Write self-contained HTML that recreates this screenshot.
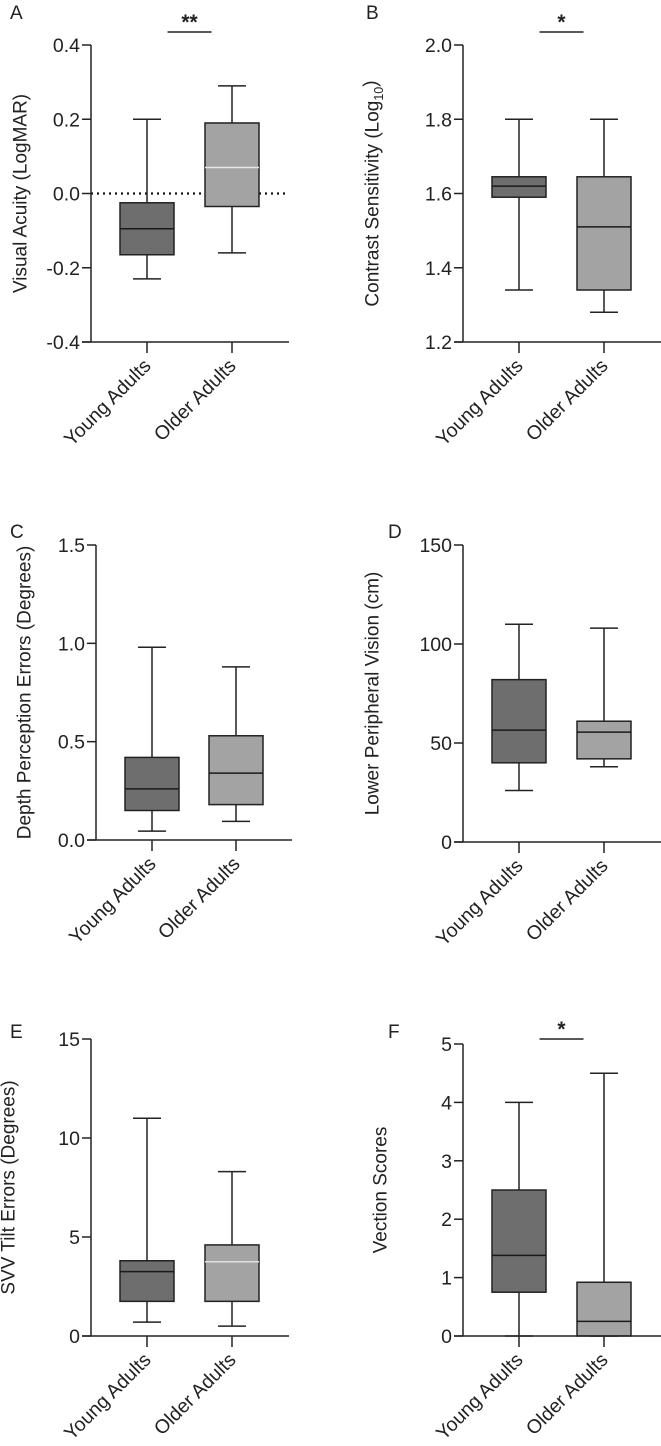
<!DOCTYPE html>
<html><head><meta charset="utf-8">
<style>
html,body{margin:0;padding:0;background:#fff;}
svg{display:block;font-family:"Liberation Sans",Arial,sans-serif;}
</style></head>
<body>
<svg id="chart" width="661" height="1446" viewBox="0 0 661 1446" xmlns="http://www.w3.org/2000/svg"></svg>
<script>
const categories = ["Young Adults", "Older Adults"];
// [min, q1, median, q3, max]
const aYoung = [-0.23, -0.165, -0.095, -0.025, 0.2];
const aOlder = [-0.16, -0.035, 0.07, 0.19, 0.29];
const bYoung = [1.34, 1.59, 1.62, 1.645, 1.8];
const bOlder = [1.28, 1.34, 1.51, 1.645, 1.8];
const cYoung = [0.045, 0.15, 0.26, 0.42, 0.98];
const cOlder = [0.095, 0.18, 0.34, 0.53, 0.88];
const dYoung = [26, 40, 56.5, 82, 110];
const dOlder = [38, 42, 55.5, 61, 108];
const eYoung = [0.7, 1.75, 3.25, 3.8, 11];
const eOlder = [0.5, 1.75, 3.75, 4.6, 8.3];
const fYoung = [0, 0.75, 1.38, 2.5, 4];
const fOlder = [0, 0, 0.25, 0.92, 4.5];
const aTicks = ["-0.4","-0.2","0.0","0.2","0.4"];
const bTicks = ["1.2","1.4","1.6","1.8","2.0"];
const cTicks = ["0.0","0.5","1.0","1.5"];
const dTicks = ["0","50","100","150"];
const eTicks = ["0","5","10","15"];
const fTicks = ["0","1","2","3","4","5"];

const NS = "http://www.w3.org/2000/svg";
const svg = document.getElementById("chart");
function mk(tag, attrs, parent, text) {
  const e = document.createElementNS(NS, tag);
  for (const k in attrs) e.setAttribute(k, attrs[k]);
  if (text !== undefined) e.textContent = text;
  (parent || svg).appendChild(e);
  return e;
}

const panels = [
  {id:"a", letter:"A", lx:10, ly:19, ax:91, top:45, bot:342, right:289, c:[147,232], lo:-0.4, hi:0.4, ticks:aTicks, data:[aYoung,aOlder], title:"Visual Acuity (LogMAR)", tx:20, sig:"**", sigY:32, zero:true, medCol:["#1a1a1a","#e6e6e6"]},
  {id:"b", letter:"B", lx:366, ly:19, ax:463, top:45, bot:342, right:661, c:[519,604], lo:1.2, hi:2.0, ticks:bTicks, data:[bYoung,bOlder], title:"Contrast Sensitivity (Log", sub:"10", tx:372, sig:"*", sigY:32, medCol:["#1a1a1a","#1a1a1a"]},
  {id:"c", letter:"C", lx:10, ly:538, ax:96, top:545, bot:840, right:292, c:[152,236], lo:0, hi:1.5, ticks:cTicks, data:[cYoung,cOlder], title:"Depth Perception Errors (Degrees)", tx:24, medCol:["#1a1a1a","#1a1a1a"]},
  {id:"d", letter:"D", lx:388, ly:538, ax:463, top:545, bot:842, right:661, c:[519,604], lo:0, hi:150, ticks:dTicks, data:[dYoung,dOlder], title:"Lower Peripheral Vision (cm)", tx:372, medCol:["#1a1a1a","#1a1a1a"]},
  {id:"e", letter:"E", lx:10, ly:1038, ax:91, top:1039, bot:1336, right:289, c:[147,232], lo:0, hi:15, ticks:eTicks, data:[eYoung,eOlder], title:"SVV Tilt Errors (Degrees)", tx:8, medCol:["#1a1a1a","#e0e0e0"]},
  {id:"f", letter:"F", lx:388, ly:1038, ax:463, top:1044, bot:1336, right:661, c:[519,604], lo:0, hi:5, ticks:fTicks, data:[fYoung,fOlder], title:"Vection Scores", tx:380, sig:"*", sigY:1039, medCol:["#1a1a1a","#1a1a1a"]}
];
const fills = ["#6e6e6e","#a3a3a3"];
const HALF = 27, CAP = 14;

panels.forEach(p => {
  const g = mk("g", {});
  
  
  const y = v => p.bot - (v - p.lo) / (p.hi - p.lo) * (p.bot - p.top);
  const lab = mk("text", {x:p.lx, y:p.ly, "font-size":19, fill:"#222"}, g, p.letter);
  
  
  p.ticks.forEach((t) => {
    const yy = y(parseFloat(t));
    mk("line", {x1:p.ax-9, x2:p.ax, y1:yy, y2:yy, stroke:"#222", "stroke-width":1.5}, g);
    const tl = mk("text", {x:p.ax-11, y:yy+7, "font-size":19.5, "text-anchor":"end", fill:"#222"}, g, t);
    
    
  });
  const cy = (p.top + p.bot) / 2;
  const tt = mk("text", {x:p.tx, y:cy, "font-size":19, "text-anchor":"middle", fill:"#222", transform:`rotate(-90 ${p.tx} ${cy})`, dy:"0.35em"}, g, p.title);
  if (p.sub) {
    mk("tspan", {"font-size":12.5, dy:"0.35em"}, tt, p.sub);
    mk("tspan", {dy:"-0.35em"}, tt, ")");
  }
  
  
  if (p.zero) {
    const zl = mk("line", {x1:p.ax, x2:p.right, y1:y(0), y2:y(0), stroke:"#111", "stroke-width":2.2, "stroke-dasharray":"2,4"}, g);
    
    
  }
  p.data.forEach((d, i) => {
    const cx = p.c[i];
    const bg = mk("g", {}, g);
    
    
    mk("line", {x1:cx, x2:cx, y1:y(d[0]), y2:y(d[4]), stroke:"#222", "stroke-width":1.5}, bg);
    mk("line", {x1:cx-CAP, x2:cx+CAP, y1:y(d[0]), y2:y(d[0]), stroke:"#222", "stroke-width":1.5}, bg);
    mk("line", {x1:cx-CAP, x2:cx+CAP, y1:y(d[4]), y2:y(d[4]), stroke:"#222", "stroke-width":1.5}, bg);
    mk("rect", {x:cx-HALF, y:y(d[3]), width:HALF*2, height:Math.max(y(d[1])-y(d[3]),0.5), fill:fills[i], stroke:"#222", "stroke-width":1.5}, bg);
    mk("line", {x1:cx-HALF, x2:cx+HALF, y1:y(d[2]), y2:y(d[2]), stroke:p.medCol[i], "stroke-width":1.5}, bg);
  });
  mk("line", {x1:p.ax, x2:p.ax, y1:p.top, y2:p.bot, stroke:"#222", "stroke-width":1.5}, g);
  mk("line", {x1:p.ax-9, x2:p.right, y1:p.bot, y2:p.bot, stroke:"#222", "stroke-width":1.5}, g);
  categories.forEach((c, i) => {
    const cx = p.c[i];
    mk("line", {x1:cx, x2:cx, y1:p.bot, y2:p.bot+11, stroke:"#222", "stroke-width":1.5}, g);
    const xl = mk("text", {x:cx+5, y:p.bot+25, "font-size":19.5, "text-anchor":"end", fill:"#222", transform:`rotate(-45 ${cx+5} ${p.bot+25})`}, g, c);
    
    
  });
  if (p.sig) {
    const mid = (p.c[0] + p.c[1]) / 2;
    mk("line", {x1:mid-22, x2:mid+22, y1:p.sigY, y2:p.sigY, stroke:"#222", "stroke-width":1.5}, g);
    const st = mk("text", {x:mid, y:p.sigY-3, "font-size":21, "font-weight":"bold", "text-anchor":"middle", fill:"#222"}, g, p.sig);
    
    
  }
});
</script>
</body></html>
